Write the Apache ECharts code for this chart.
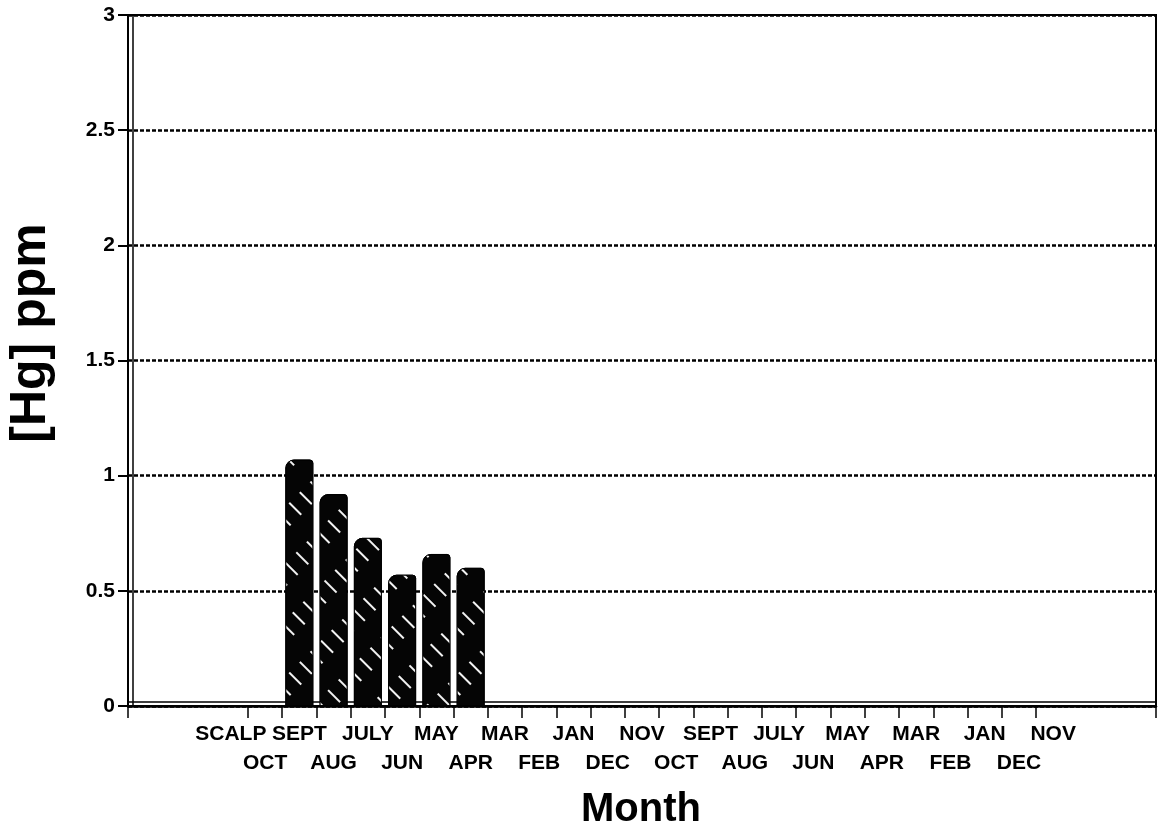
<!DOCTYPE html>
<html>
<head>
<meta charset="utf-8">
<script src="https://cdn.jsdelivr.net/npm/echarts@6/dist/echarts.min.js"></script>
<style>
  html, body { margin: 0; padding: 0; background: #fff; }
  #chart { width: 1171px; height: 829px; }
</style>
</head>
<body>
<div id="chart"></div>
<script>
// ---- data ----
const monthLabels = ['SCALP','OCT','SEPT','AUG','JULY','JUN','MAY','APR','MAR','FEB','JAN','DEC','NOV',
                     'OCT','SEPT','AUG','JULY','JUN','MAY','APR','MAR','FEB','JAN','DEC','NOV'];
const hgValues = [null, null, 1.07, 0.92, 0.73, 0.57, 0.66, 0.60, null, null, null, null, null,
                  null, null, null, null, null, null, null, null, null, null, null, null];
const yTicks = [0, 0.5, 1, 1.5, 2, 2.5, 3];

// ---- layout helpers ----
const firstSlot = 3;      // axis slot of first label
const slotCount = 30;     // axis length in slots
const labelPos = monthLabels.map((_, i) => i + firstSlot);
const topRowPos = labelPos.filter((_, i) => i % 2 === 0);
const bottomRowPos = labelPos.filter((_, i) => i % 2 === 1);
const tickPos = [0].concat(monthLabels.slice(1).map((_, i) => i + firstSlot + 0.5), [slotCount]);
const barData = hgValues.map((v, i) => [labelPos[i], v]).filter(d => d[1] !== null);

const FONT = '"Liberation Sans", Arial, Helvetica, sans-serif';
const labelFmt = function (v) { return monthLabels[Math.round(v) - firstSlot] || ''; };
const labelBase = {
  show: true, showMinLabel: true, showMaxLabel: true, hideOverlap: false,
  color: '#000', fontFamily: FONT, fontWeight: 'bold', fontSize: 21,
  verticalAlign: 'top', formatter: labelFmt
};
const chart = echarts.init(document.getElementById('chart'), null, { renderer: 'canvas' });

chart.setOption({
  backgroundColor: '#ffffff',
  animation: false,
  grid: {
    left: 128, right: 15, top: 15, bottom: 123,
    show: true, borderColor: '#000', borderWidth: 2, backgroundColor: 'transparent'
  },
  xAxis: [
    {
      type: 'value', min: 0, max: slotCount,
      axisLine: { show: true, lineStyle: { color: '#000', width: 2.5 } },
      splitLine: { show: false },
      axisTick: { show: true, customValues: tickPos, length: 12, lineStyle: { color: '#000', width: 1.5 } },
      axisLabel: Object.assign({}, labelBase, { customValues: topRowPos, margin: 18 })
    },
    {
      type: 'value', min: 0, max: slotCount, position: 'bottom', offset: -4,
      axisLine: { show: true, lineStyle: { color: '#000', width: 1.5 } },
      axisTick: { show: false }, axisLabel: { show: false }, splitLine: { show: false }
    },
    {
      type: 'value', min: 0, max: slotCount, position: 'bottom', offset: 0,
      axisLine: { show: false }, axisTick: { show: false }, splitLine: { show: false },
      axisLabel: Object.assign({}, labelBase, { customValues: bottomRowPos, margin: 47 })
    }
  ],
  yAxis: [
    {
      type: 'value', min: 0, max: 3, interval: 0.5,
      axisLine: { show: true, lineStyle: { color: '#000', width: 2 } },
      axisTick: { show: true, length: 10, inside: false, lineStyle: { color: '#000', width: 2 } },
      axisLabel: {
        margin: 13, color: '#000', fontFamily: FONT, fontWeight: 'bold', fontSize: 21,
        formatter: function (v) { return String(v); }
      },
      splitLine: { show: true, lineStyle: { color: '#000', width: 2.5, type: [4, 2] } }
    },
    {
      type: 'value', min: 0, max: 3, position: 'left', offset: -5,
      axisLine: { show: true, lineStyle: { color: '#000', width: 1.5 } },
      axisTick: { show: false }, axisLabel: { show: false }, splitLine: { show: false }
    }
  ],
  series: [
    {
      type: 'bar',
      xAxisIndex: 0,
      yAxisIndex: 0,
      data: barData,
      barWidth: 28,
      itemStyle: {
        color: '#050505',
        borderColor: '#000',
        borderWidth: 1,
        borderRadius: [8, 3, 0, 0],
        decal: {
          symbol: 'rect',
          symbolSize: 1,
          dashArrayX: [[17, 23]],
          dashArrayY: [1.5, 13],
          rotation: Math.PI / 4,
          color: 'rgba(255,255,255,0.95)'
        }
      }
    }
  ],
  graphic: [
    {
      type: 'text', x: 31, y: 333, rotation: Math.PI / 2,
      style: {
        text: '[Hg] ppm', fill: '#000', font: 'bold 50px ' + FONT,
        textAlign: 'center', textVerticalAlign: 'middle'
      }
    },
    {
      type: 'text', x: 641, y: 810,
      style: {
        text: 'Month', fill: '#000', font: 'bold 40px ' + FONT,
        textAlign: 'center', textVerticalAlign: 'middle'
      }
    }
  ]
});
</script>
</body>
</html>
